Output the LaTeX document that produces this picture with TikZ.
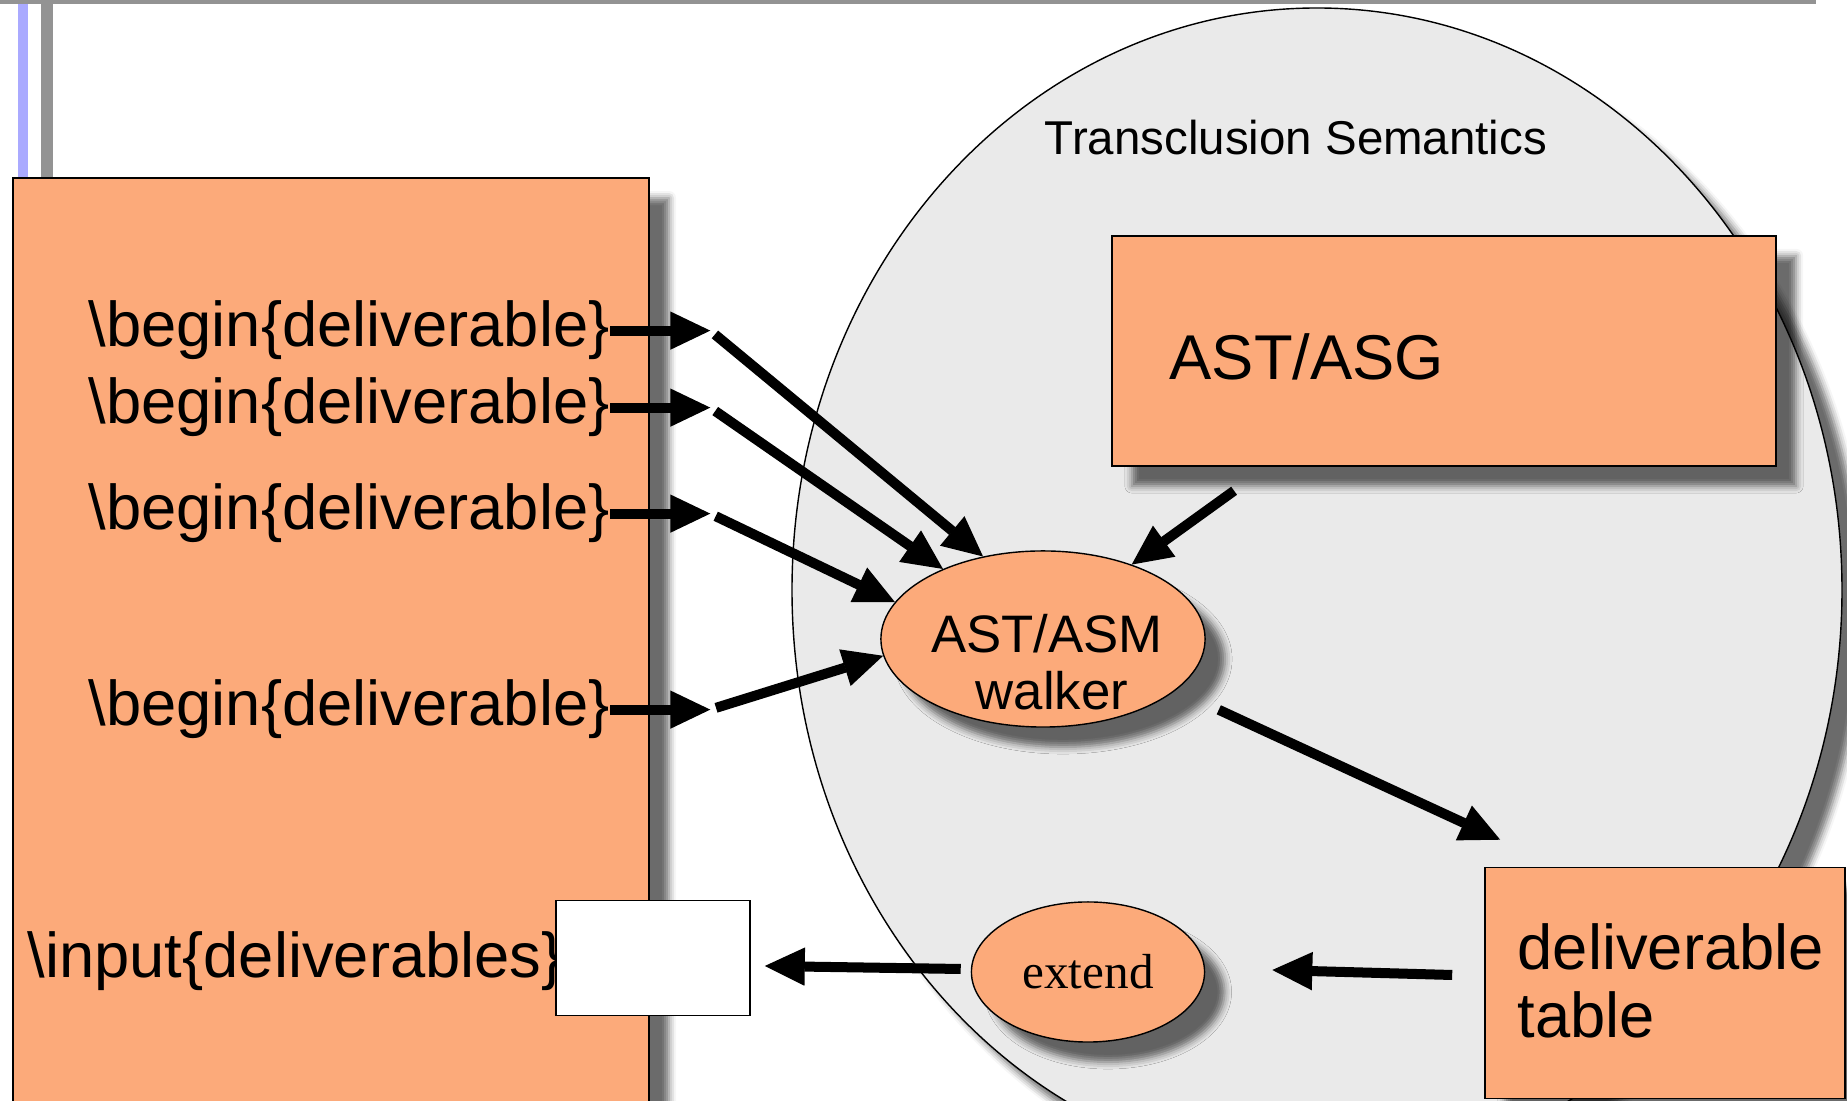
\documentclass[tikz,border=0pt]{standalone}
\usepackage{fontspec}
\setmainfont{Liberation Sans}
\newfontfamily\timesfont{Liberation Serif}
\usetikzlibrary{arrows.meta,calc,positioning,shapes.geometric,shadows.blur}
\definecolor{SlideGray}{RGB}{147,147,147}
\definecolor{SlideBlue}{RGB}{170,170,255}
\definecolor{BoxOrange}{RGB}{252,170,122}
\definecolor{SemGray}{RGB}{234,234,234}

\begin{document}
\begin{tikzpicture}[x=0.01cm,y=-0.01cm,
  arr/.style={-{Triangle[length=0.4cm,width=0.38cm,line width=0.4pt,fill=black]},line width=0.1cm},
  shade/.style={blur shadow={shadow xshift=0.2cm,shadow yshift=-0.2cm,shadow blur radius=0.07cm,shadow opacity=58}},
  box/.style={draw,fill=BoxOrange,thin,inner sep=0,shade},
  oval/.style={box,ellipse},
  big/.style={font=\fontsize{18}{19.3}\selectfont,inner sep=0},
  mid/.style={font=\fontsize{15}{16}\selectfont,inner sep=0}]
\clip (0,0) rectangle (1847,1101);
% slide frame
\fill[SlideGray] (0,0) rectangle (1816,4);
\fill[SlideBlue] (18,4) rectangle (28,178);
\fill[SlideGray] (41,4) rectangle (53,178);
% source document
\draw[fill=BoxOrange,thin,shade] (13,178) rectangle (649,1140);
\foreach \n/\y in {1/347,2/424,3/530,4/726}
  \node[big,anchor=base west] (b\n) at (88,\y) {\textbackslash begin\{deliverable\}};
\node[big,anchor=base west] (inp) at (27,978) {\textbackslash input\{deliverables\}};
% semantics
\draw[fill=SemGray,thin,shade] (1317,590) ellipse [x radius=525,y radius=582];
\node[font=\fontsize{13.5}{14}\selectfont,anchor=base] (semtitle) at (1296,155) {Transclusion Semantics};
\node[box,minimum width=6.64cm,minimum height=2.30cm] (asg) at (1444,351) {};
\node[big,anchor=base west] (asgtext) at (1169,380) {AST/ASG};
\node[box,minimum width=3.60cm,minimum height=2.31cm] (tbl) at (1665,983) {};
\node[big,anchor=base west] (tbl1) at (1517,970) {deliverable};
\node[big,anchor=base west] (tbl2) at (1517,1038) {table};
\node[oval,minimum width=3.24cm,minimum height=1.76cm] (walker) at (1043,639) {};
\node[mid,anchor=base] (walk1) at (1047,653) {AST/ASM};
\node[mid,anchor=base] (walk2) at (1052,710) {walker};
\node[oval,minimum width=2.33cm,minimum height=1.40cm,font=\timesfont\fontsize{14}{14}\selectfont] (ext) at (1088,972) {extend};
\node[draw,fill=white,thin,minimum width=1.94cm,minimum height=1.15cm] (slot) at (653,958) {};
% arrows
\foreach \n/\a in {1/126,2/145,3/166,4/186}{
  \draw[arr] (b\n.east) -- ++(100,0) coordinate (t\n);
  \draw[arr,shorten <=0.06cm] (t\n) -- (walker.\a);
}
\draw[arr] ($(asg.south west)+(123,24)$) -- (walker.40);
\draw[arr,shorten <=0.47cm] (walker.-21) -- ($(tbl.north west)+(16,-27)$);
\draw[arr] ($(tbl.west)+(-32,-8)$) -- ($(ext.east)+(67,-2)$);
\draw[arr] ($(ext.west)+(-10,-3)$) -- ($(slot.east)+(14,8)$);
\end{tikzpicture}
\end{document}
